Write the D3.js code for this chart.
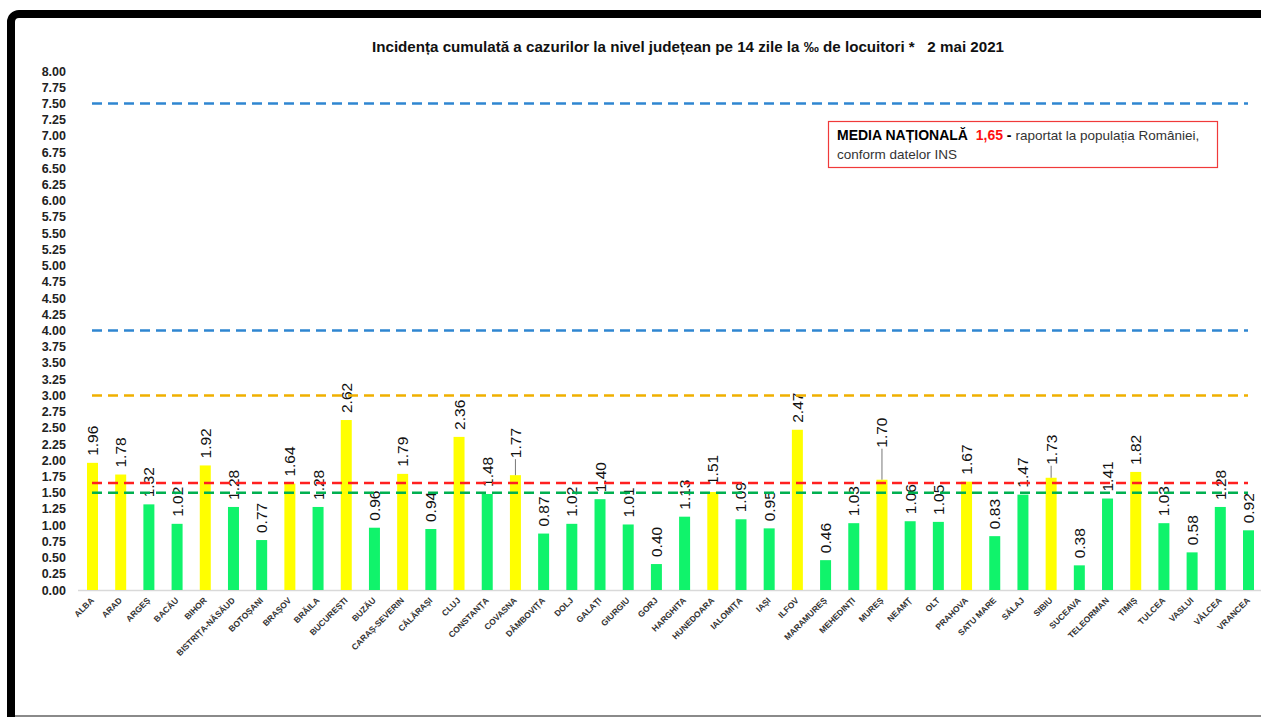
<!DOCTYPE html>
<html>
<head>
<meta charset="utf-8">
<script src="https://cdn.jsdelivr.net/npm/d3@7"></script>
<style>
  html, body { margin: 0; background: #fff; overflow: hidden; }
  svg { display: block; }
  text { white-space: pre; }
</style>
</head>
<body>
<svg id="chart" width="1261" height="717"></svg>
<script>
// counties and 14-day incidence values (per 1000 inhabitants)
const counties = ['ALBA', 'ARAD', 'ARGEȘ', 'BACĂU', 'BIHOR', 'BISTRIȚA-NĂSĂUD', 'BOTOȘANI', 'BRAȘOV', 'BRĂILA',
	'BUCUREȘTI', 'BUZĂU', 'CARAȘ-SEVERIN', 'CĂLĂRAȘI', 'CLUJ', 'CONSTANȚA', 'COVASNA', 'DÂMBOVIȚA', 'DOLJ',
	'GALAȚI', 'GIURGIU', 'GORJ', 'HARGHITA', 'HUNEDOARA', 'IALOMIȚA', 'IAȘI', 'ILFOV', 'MARAMUREȘ', 'MEHEDINȚI',
	'MUREȘ', 'NEAMȚ', 'OLT', 'PRAHOVA', 'SATU MARE', 'SĂLAJ', 'SIBIU', 'SUCEAVA', 'TELEORMAN', 'TIMIȘ', 'TULCEA',
	'VASLUI', 'VÂLCEA', 'VRANCEA'];
const incidence = [1.96, 1.78, 1.32, 1.02, 1.92, 1.28, 0.77, 1.64, 1.28,
	2.62, 0.96, 1.79, 0.94, 2.36, 1.48, 1.77, 0.87, 1.02,
	1.40, 1.01, 0.40, 1.13, 1.51, 1.09, 0.95, 2.47, 0.46, 1.03,
	1.70, 1.06, 1.05, 1.67, 0.83, 1.47, 1.73, 0.38, 1.41, 1.82, 1.03,
	0.58, 1.28, 0.92];
// reference (threshold) lines
const thresholds = [7.5, 4.0, 3.0, 1.65, 1.5];
const thresholdColors = ['#2F86D1', '#2F86D1', '#F0B000', '#FF2020', '#00B050'];
const yTicks = d3.range(0, 8.001, 0.25);
const nationalAvg = '1,65';

// labels that were moved up in the original, with a leader line (px)
const labelNudge = { 'COVASNA': 10, 'MUREȘ': 25, 'SIBIU': 6 };

const svg = d3.select('#chart');

// frame (top and left only, rounded corner)
svg.append('path')
	.attr('d', 'M11,730 V22 A8,8 0 0 1 19,14 H1270')
	.attr('fill', 'none')
	.attr('stroke', '#000')
	.attr('stroke-width', 8);
svg.append('line')
	.attr('x1', 15).attr('x2', 1261)
	.attr('y1', 716).attr('y2', 716)
	.attr('stroke', '#8a8a8a').attr('stroke-width', 2);

// title
svg.append('text')
	.attr('x', 688).attr('y', 52)
	.attr('text-anchor', 'middle')
	.attr('textLength', 632)
	.attr('lengthAdjust', 'spacingAndGlyphs')
	.style('font', 'bold 14px "Liberation Sans Narrow", "Liberation Sans", Arial, sans-serif')
	.attr('fill', '#111')
	.text('Incidența cumulată a cazurilor la nivel județean pe 14 zile la ‰ de locuitori *   2 mai 2021');

const x = d3.scaleBand()
	.domain(counties)
	.range([78.4, 1262.6])
	.paddingInner(0.61)
	.paddingOuter(0.305);

const y = d3.scaleLinear()
	.domain([0, 8])
	.range([590, 71]);

// y axis labels
const yAxis = svg.append('g')
	.attr('transform', 'translate(66,0)')
	.call(d3.axisLeft(y).tickValues(yTicks).tickFormat(d3.format('.2f')).tickSize(0).tickPadding(0));
yAxis.select('.domain').remove();
yAxis.selectAll('text')
	.style('font', 'bold 12.5px "Liberation Sans", Arial, sans-serif')
	.attr('fill', '#222');

// baseline
svg.append('line')
	.attr('x1', 78).attr('x2', 1262)
	.attr('y1', y(0) + 0.5).attr('y2', y(0) + 0.5)
	.attr('stroke', '#d9d9d9').attr('stroke-width', 1.5);

const data = counties.map((c, i) => ({ name: c, value: incidence[i] }));

// bars
svg.append('g').selectAll('rect')
	.data(data)
	.join('rect')
	.attr('x', d => x(d.name))
	.attr('width', x.bandwidth())
	.attr('y', d => y(d.value))
	.attr('height', d => y(0) - y(d.value))
	.attr('fill', d => d.value > 1.5 ? '#FFFF00' : '#10F36B');

// leader lines for nudged labels
svg.append('g').selectAll('line')
	.data(data.filter(d => labelNudge[d.name]))
	.join('line')
	.attr('x1', d => x(d.name) + x.bandwidth() / 2)
	.attr('x2', d => x(d.name) + x.bandwidth() / 2)
	.attr('y1', d => y(d.value) - 7 - labelNudge[d.name] + 1)
	.attr('y2', d => y(d.value))
	.attr('stroke', '#777')
	.attr('stroke-width', 1);

// value labels (rotated)
svg.append('g').selectAll('text')
	.data(data)
	.join('text')
	.attr('transform', d => {
		const cx = x(d.name) + x.bandwidth() / 2 + 5.5;
		const cy = y(d.value) - 7 - (labelNudge[d.name] || 0);
		return `translate(${cx},${cy}) rotate(-90)`;
	})
	.style('font', '15.5px "Liberation Sans", Arial, sans-serif')
	.attr('fill', '#111')
	.text(d => d.value.toFixed(2));

// threshold dashed lines
svg.append('g').selectAll('line')
	.data(thresholds)
	.join('line')
	.attr('x1', 92).attr('x2', 1248)
	.attr('y1', d => y(d)).attr('y2', d => y(d))
	.attr('stroke', (d, i) => thresholdColors[i])
	.attr('stroke-width', 2.5)
	.attr('stroke-dasharray', '10,6');

// category labels
svg.append('g').selectAll('text')
	.data(counties)
	.join('text')
	.attr('transform', d => `translate(${x(d) + x.bandwidth() / 2 + 2},${601}) rotate(-45)`)
	.attr('text-anchor', 'end')
	.style('font', 'bold 8.5px "Liberation Sans Narrow", "Liberation Sans", Arial, sans-serif')
	.attr('fill', '#333')
	.text(d => d);

// national average box
const box = svg.append('g');
box.append('rect')
	.attr('x', 828.5).attr('y', 121.5)
	.attr('width', 389).attr('height', 46)
	.attr('fill', '#fff')
	.attr('stroke', '#F03A3A')
	.attr('stroke-width', 1.2);
const line1 = box.append('text')
	.attr('x', 837).attr('y', 140)
	.style('font', '13.5px "Liberation Sans", Arial, sans-serif');
line1.append('tspan').style('font-weight', 'bold').style('font-size', '14px').attr('fill', '#000').text('MEDIA NAȚIONALĂ  ');
line1.append('tspan').style('font-weight', 'bold').style('font-size', '14px').attr('fill', '#FF1010').text(nationalAvg);
line1.append('tspan').style('font-weight', 'bold').style('font-size', '14px').attr('fill', '#000').text(' - ');
line1.append('tspan').attr('fill', '#333').text('raportat la populația României,');
box.append('text')
	.attr('x', 837).attr('y', 159)
	.style('font', '13.5px "Liberation Sans", Arial, sans-serif')
	.attr('fill', '#333')
	.text('conform datelor INS');
</script>
</body>
</html>
